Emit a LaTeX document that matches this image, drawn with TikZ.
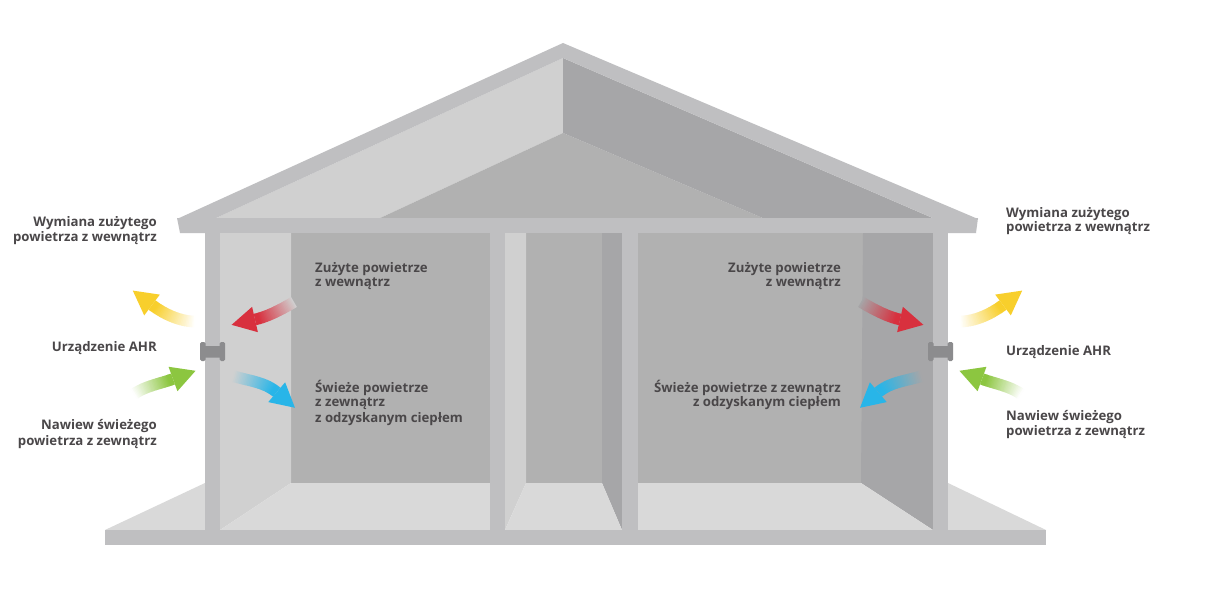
\documentclass[tikz,border=0pt]{standalone}
\usepackage{fontspec}
\setmainfont{Open Sans}
\usetikzlibrary{calc}
\definecolor{framec}{HTML}{BFBFC1}
\definecolor{lightc}{HTML}{D0D0D0}
\definecolor{midc}{HTML}{B1B1B1}
\definecolor{darkc}{HTML}{A6A6A8}
\definecolor{floorc}{HTML}{D9D9D9}
\definecolor{ahrc}{HTML}{8C8C8E}
\definecolor{textc}{HTML}{4A4749}
\definecolor{yelc}{HTML}{F8CF2C}
\definecolor{redc}{HTML}{D8303E}
\definecolor{grnc}{HTML}{8CC640}
\definecolor{bluc}{HTML}{28B5E8}
\tikzset{
  lbl/.style={font=\fontsize{13.2}{16}\selectfont\bfseries, text=textc, inner sep=0pt},
  framepart/.style={fill=framec},
  ahrpart/.style={fill=ahrc, rounded corners=1.5pt}
}
% #1 name, #2 colour, #3 background, #4 tail, #5 ctrl1, #6 ctrl2, #7 head base
\newcommand\airflow[7]{%
  \coordinate (#1-tail) at (#4);
  \coordinate (#1-ca) at (#5);
  \coordinate (#1-cb) at (#6);
  \coordinate (#1-base) at (#7);
  \foreach \i in {0,...,29}{%
    \pgfmathsetmacro\ta{\i/30}%
    \pgfmathsetmacro\tb{min(1,(\i+1.4)/30)}%
    \pgfmathtruncatemacro\pc{min(100,100*(\i+0.5)/30/0.9)}%
    \path (#1-tail) .. controls (#1-ca) and (#1-cb) .. (#1-base)
      coordinate[pos=\ta] (#1-s) coordinate[pos=\tb] (#1-e);
    \draw[line width=11.5pt, draw=#2!\pc!#3] (#1-s) -- (#1-e);
  }
  \fill[#2] ($(#1-base)!13pt!90:(#1-cb)$) -- ($(#1-base)!24pt!180:(#1-cb)$)
    -- ($(#1-base)!13pt!-90:(#1-cb)$) -- cycle;
}
\begin{document}
\begin{tikzpicture}[x=1pt,y=-1pt]
\useasboundingbox (0,0) rectangle (1213,599);
\fill[white] (0,0) rectangle (1213,599);

% roof planes
\fill[lightc] (214,219) -- (563,58) -- (563,133) -- (378,219) -- cycle;
\fill[midc] (378,219) -- (563,133) -- (765,219) -- cycle;
\fill[darkc] (563,58) -- (935,219) -- (765,219) -- (563,133) -- cycle;
% roof band
\fill[framepart] (177,219) -- (563,43) -- (978,219) -- (935,219) -- (563,58) -- (214,219) -- cycle;
% beam
\fill[framepart] (177,218) -- (978,218) -- (976,233) -- (180,233) -- cycle;

% left room
\fill[midc] (291,233) rectangle (490,483);
\fill[lightc] (220,233) -- (291,233) -- (291,483) -- (220,530) -- cycle;
\fill[floorc] (220,530) -- (291,483) -- (490,483) -- (490,530) -- cycle;
% middle room
\fill[midc] (526,233) rectangle (602,483);
\fill[lightc] (505,233) -- (526,233) -- (526,483) -- (505,530) -- cycle;
\fill[darkc] (602,233) -- (622,233) -- (622,530) -- (602,483) -- cycle;
\fill[floorc] (505,530) -- (526,483) -- (602,483) -- (622,530) -- cycle;
% right room
\fill[midc] (638,233) rectangle (863,483);
\fill[darkc] (863,233) -- (933,233) -- (933,530) -- (861,483) -- cycle;
\fill[floorc] (638,483) -- (861,483) -- (933,530) -- (638,530) -- cycle;
% outside floor
\fill[floorc] (105,530) -- (205,483) -- (205,530) -- cycle;
\fill[floorc] (948,483) -- (1046,530) -- (948,530) -- cycle;
% walls and slab
\fill[framepart] (205,233) rectangle (220,530);
\fill[framepart] (490,233) rectangle (505,530);
\fill[framepart] (622,233) rectangle (638,530);
\fill[framepart] (933,233) rectangle (948,530);
\fill[framepart] (105,530) rectangle (1046,545);

% AHR units
\fill[ahrpart] (203,346) rectangle (222,357.5);
\fill[ahrpart] (200,342) rectangle (205.5,361);
\fill[ahrpart] (219.5,342) rectangle (225,361);
\fill[ahrpart] (931,346) rectangle (950,357.5);
\fill[ahrpart] (928,342) rectangle (933.5,361);
\fill[ahrpart] (947.5,342) rectangle (953,361);

% arrows left
\airflow{yl}{yelc}{white}{195,321.5}{180,321.5}{164,314}{152,305}
\airflow{rl}{redc}{lightc}{294,302}{282,309}{268.6,316.4}{255,319.5}
\airflow{gl}{grnc}{white}{134,394}{145.5,386}{159.8,383.8}{173,379}
\airflow{bl}{bluc}{lightc}{233,376}{248.2,380.8}{264.5,381.8}{276.7,392.2}
% arrows right
\airflow{yr}{yelc}{white}{960,321.5}{975,321.5}{991,314}{1003,305}
\airflow{rr}{redc}{darkc}{861,302}{873,309}{886.4,316.4}{900,319.5}
\airflow{gr}{grnc}{white}{1021,394}{1009.5,386}{995.2,383.8}{982,379}
\airflow{br}{bluc}{darkc}{922,376}{906.8,380.8}{890.5,381.8}{878.3,392.2}

% left labels
\node[lbl, anchor=base east] (lwa) at (157,226) {Wymiana zużytego};
\node[lbl, anchor=base east] (lwb) at (157,241.7) {powietrza z wewnątrz};
\node[lbl, anchor=base east] (lahr) at (157,351.5) {Urządzenie AHR};
\node[lbl, anchor=base east] (lna) at (157,429.5) {Nawiew świeżego};
\node[lbl, anchor=base east] (lnb) at (157,445) {powietrza z zewnątrz};
\node[lbl, anchor=base west] (lza) at (315,272.3) {Zużyte powietrze};
\node[lbl, anchor=base west] (lzb) at (315,286.7) {z wewnątrz};
\node[lbl, anchor=base west] (lsa) at (315,392.3) {Świeże powietrze};
\node[lbl, anchor=base west] (lsb) at (315,406.7) {z zewnątrz};
\node[lbl, anchor=base west] (lsc) at (315,422.3) {z odzyskanym ciepłem};
% right labels
\node[lbl, anchor=base west] (rwa) at (1006,217.3) {Wymiana zużytego};
\node[lbl, anchor=base west] (rwb) at (1006,231.7) {powietrza z wewnątrz};
\node[lbl, anchor=base west] (rahr) at (1006,355) {Urządzenie AHR};
\node[lbl, anchor=base west] (rna) at (1006,420.7) {Nawiew świeżego};
\node[lbl, anchor=base west] (rnb) at (1006,435) {powietrza z zewnątrz};
\node[lbl, anchor=base east] (rza) at (841,272.3) {Zużyte powietrze};
\node[lbl, anchor=base east] (rzb) at (841,286) {z wewnątrz};
\node[lbl, anchor=base east] (rsa) at (841,392.7) {Świeże powietrze z zewnątrz};
\node[lbl, anchor=base east] (rsb) at (841,406) {z odzyskanym ciepłem};
\end{tikzpicture}
\end{document}
